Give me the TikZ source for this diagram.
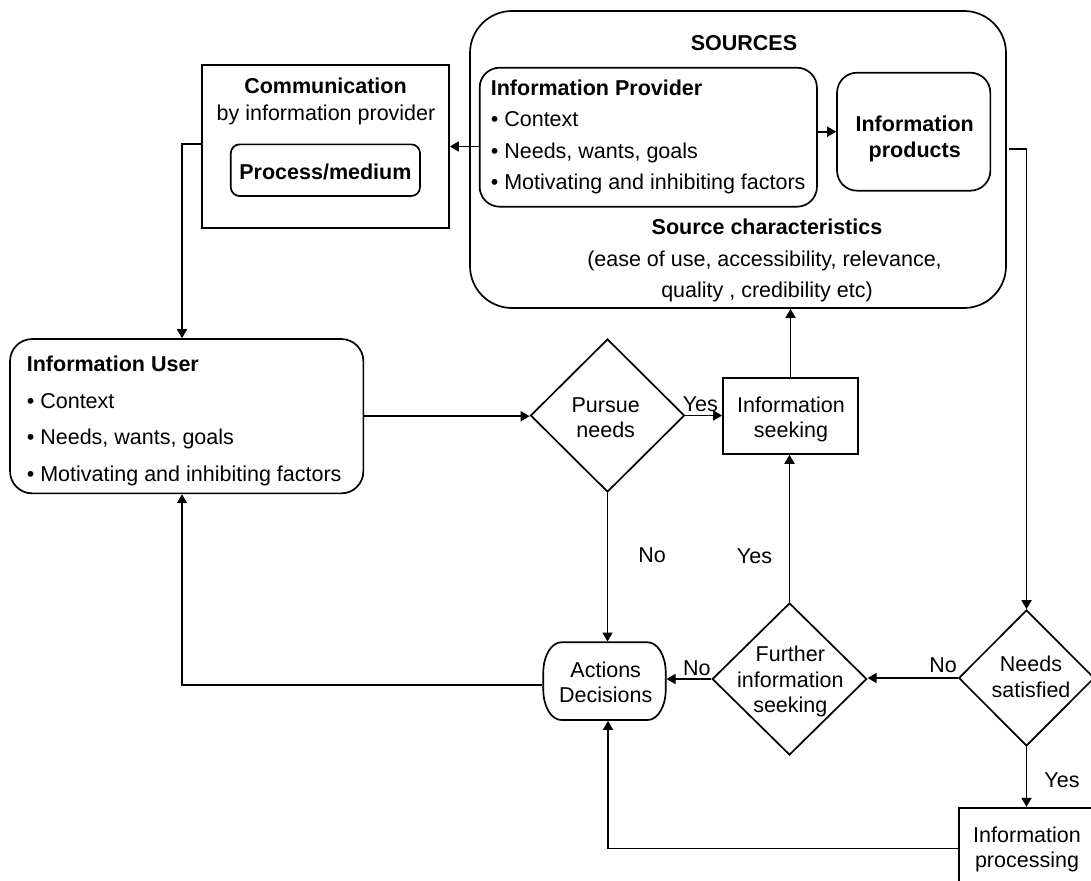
\documentclass[tikz,border=0pt]{standalone}
\usepackage{fontspec}
\setmainfont{Liberation Sans}
\usetikzlibrary{arrows.meta,shapes.geometric,calc}
\begin{document}
\begin{tikzpicture}[x=1pt,y=-1pt,
  font=\fontsize{21.5}{25}\selectfont,
  line width=1.7pt,
  arr/.style={-{Triangle[length=9pt,width=10pt]}},
  sq/.style={draw, rectangle, inner sep=0pt},
  rbox/.style={draw, rectangle, inner sep=0pt, rounded corners=#1},
  dia/.style={draw, diamond, inner sep=0pt},
  hold/.style={rectangle, inner sep=0pt},
  lt/.style={inner sep=0pt, anchor=base west},
  ct/.style={inner sep=0pt, anchor=base},
  bt/.style={inner sep=0pt, anchor=base, font=\fontsize{21.5}{25}\selectfont\bfseries},
  blt/.style={inner sep=0pt, anchor=base west, font=\fontsize{21.5}{25}\selectfont\bfseries}
]
\useasboundingbox (0,0) rectangle (1091,880);
\clip (0,0) rectangle (1091,880);

% ---------- boxes ----------
\node[sq, minimum width=247, minimum height=163] (comm) at (325.5,146.5) {};
\node[rbox=9pt, minimum width=189.3, minimum height=51.7] (medium) at (325.4,170.2) {};
\node[rbox=42pt, minimum width=536, minimum height=297] (sources) at (738,159.5) {};
\node[rbox=20pt, minimum width=337.3, minimum height=139] (provider) at (648.3,137.2) {};
\node[rbox=20pt, minimum width=153.3, minimum height=118] (products) at (913.7,131.7) {};
\node[rbox=22pt, minimum width=353.3, minimum height=154.3] (user) at (186.7,416.2) {};
\node[dia, minimum width=154, minimum height=153] (pursue) at (607.5,415.5) {};
\node[sq, minimum width=135, minimum height=76.3] (seek) at (790.5,415.8) {};
\node[dia, minimum width=154.6, minimum height=152] (further) at (789.5,679) {};
\node[dia, minimum width=135.6, minimum height=136] (needs) at (1026.5,678) {};
\node[sq, minimum width=140, minimum height=81.4] (proc) at (1029.3,848.4) {};
\node[hold, minimum width=122.4, minimum height=77.7] (actions) at (604.5,681.2) {};
% terminator outline of the actions box
\draw (561.3,642.3) -- (647.7,642.3)
  .. controls (657.6,642.3) and (665.7,655.7) .. (665.7,672.3) -- (665.7,690)
  .. controls (665.7,706.6) and (657.6,720) .. (647.7,720) -- (561.3,720)
  .. controls (551.4,720) and (543.3,706.6) .. (543.3,690) -- (543.3,672.3)
  .. controls (543.3,655.7) and (551.4,642.3) .. (561.3,642.3) -- cycle;

% ---------- texts ----------
\node[bt] (commA) at (325.5,93.7) {Communication};
\node[ct] (commB) at (326,120.5) {by information provider};
\node[bt] (mediumT) at (325.4,179.5) {Process/medium};

\node[bt] (srcT) at (744,50.4) {SOURCES};
\node[blt] (provA) at (490,95.4) {Information Provider};
\node[lt] (provB) at (490,126.7) {• Context};
\node[lt] (provC) at (490,158.1) {• Needs, wants, goals};
\node[lt] (provD) at (490,189.4) {• Motivating and inhibiting factors};
\node[bt] (prodA) at (914.7,131.7) {Information};
\node[bt] (prodB) at (914.7,157.7) {products};
\node[bt] (charA) at (767,234.4) {Source characteristics};
\node[ct] (charB) at (764.5,266.2) {(ease of use, accessibility, relevance,};
\node[ct] (charC) at (767,297.7) {quality , credibility etc)};

\node[blt] (userA) at (26,371.7) {Information User};
\node[lt] (userB) at (26,408.2) {• Context};
\node[lt] (userC) at (26,444.7) {• Needs, wants, goals};
\node[lt] (userD) at (26,481.2) {• Motivating and inhibiting factors};

\node[ct] (pursueA) at (605.7,412.7) {Pursue};
\node[ct] (pursueB) at (605.7,437.7) {needs};
\node[ct] (seekA) at (791,412.7) {Information};
\node[ct] (seekB) at (791,437.7) {seeking};
\node[ct] (actA) at (605.7,677) {Actions};
\node[ct] (actB) at (605.7,702.7) {Decisions};
\node[ct] (furA) at (790.3,661) {Further};
\node[ct] (furB) at (790.3,687) {information};
\node[ct] (furC) at (790.3,712.7) {seeking};
\node[ct] (needsA) at (1031,671) {Needs};
\node[ct] (needsB) at (1031,697) {satisfied};
\node[ct] (procA) at (1027,842.7) {Information};
\node[ct] (procB) at (1027,867.7) {processing};

% ---------- connector labels ----------
\node[lt] (yes1) at (682,411.7) {Yes};
\node[ct] (no1) at (652,562.7) {No};
\node[ct] (yes2) at (754.5,563.7) {Yes};
\node[lt] (no2) at (682.3,675.4) {No};
\node[ct] (no3) at (943,672.7) {No};
\node[ct] (yes3) at (1062,787.7) {Yes};

% ---------- connectors ----------
\coordinate (c1) at (182,144);
\coordinate (c2) at (1026.5,149);
\coordinate (c3) at (182,685);
\coordinate (c4) at (608,848.4);

\draw[arr] (provider.west |- comm.east) -- (comm.east);
\draw[arr] (provider.east |- products.west) -- (products.west);
\draw[arr] (comm.west |- c1) -- (c1) -- (c1 |- user.north);
\draw[arr] (user.east) -- (user.east -| pursue.west);
\draw[arr] (pursue.east) -- (pursue.east -| seek.west);
\draw[arr] (seek.north) -- (seek.north |- sources.south);
\draw[arr, shorten <=2.5pt] (sources.east |- c2) -- (c2) -- (needs.north);
\draw[arr] (pursue.south) -- (pursue.south |- actions.north);
\draw[arr] (further.west) -- (further.west -| actions.east);
\draw[arr] (further.north) -- (further.north |- seek.south);
\draw[arr] (needs.west) -- (needs.west -| further.east);
\draw[arr] (needs.south) -- (needs.south |- proc.north);
\draw[arr] (proc.west) -- (c4) -- (c4 |- actions.south);
\draw[arr] (actions.west |- c3) -- (c3) -- (c3 |- user.south);
\end{tikzpicture}
\end{document}
